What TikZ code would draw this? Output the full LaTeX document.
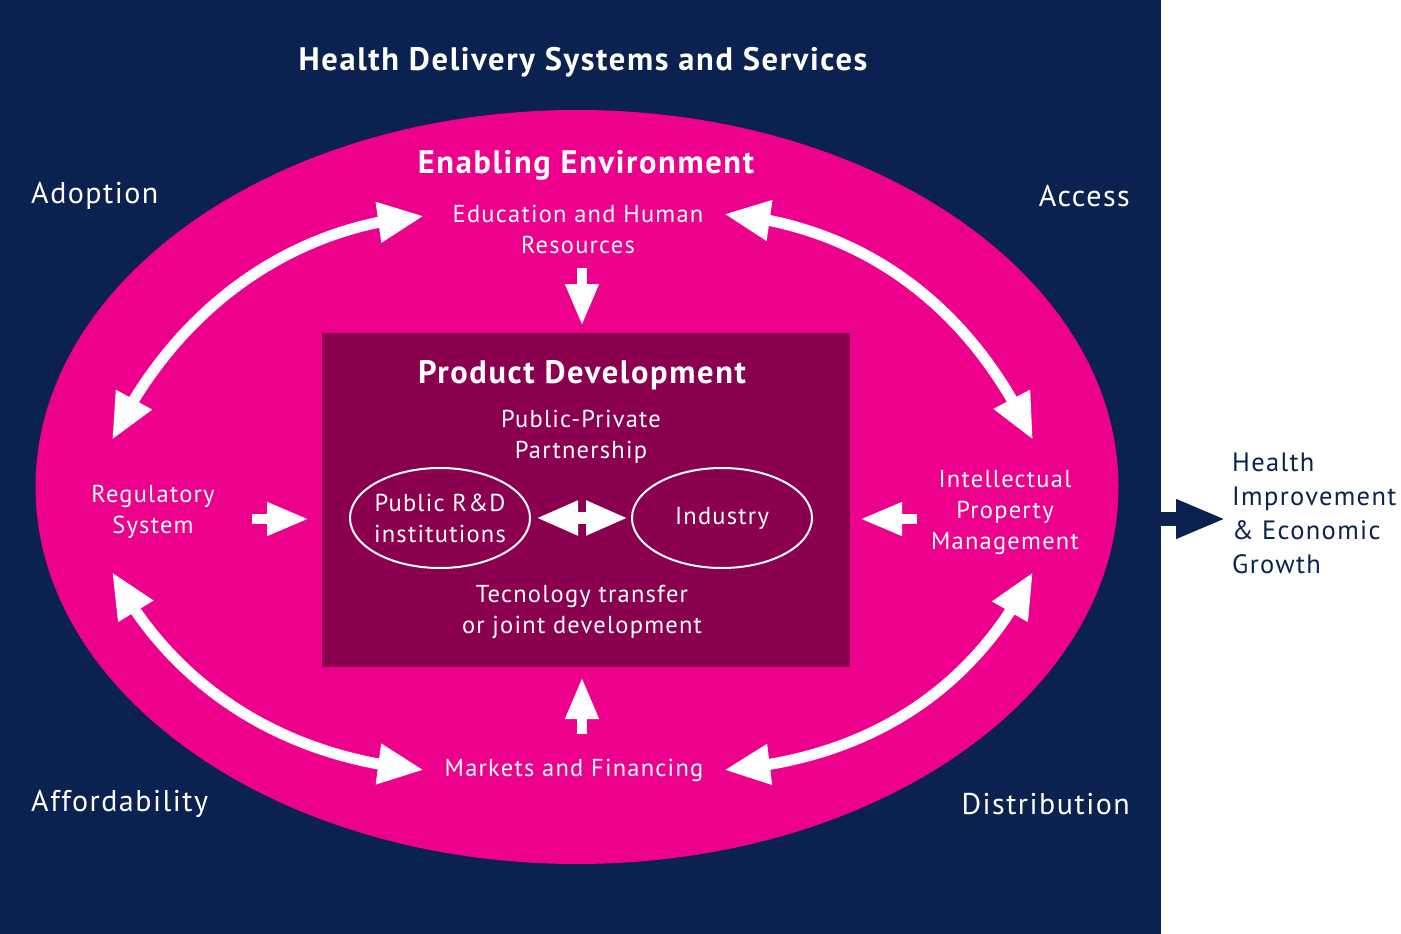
\documentclass[tikz,border=0pt]{standalone}
\usepackage{fontspec}
\setmainfont{PT Sans}[LetterSpace=5]
\usetikzlibrary{arrows.meta,bending,shapes.geometric}
\definecolor{navy}{HTML}{0B2250}
\definecolor{pinkc}{HTML}{EC008C}
\definecolor{plum}{HTML}{8A004F}
\tikzset{
  lbl/.style={text=white,align=center,font=\fontsize{24.5}{31}\selectfont,inner sep=0pt},
  corner/.style={text=white,font=\fontsize{30}{36}\selectfont,inner sep=0pt},
  ttl/.style={text=white,font=\bfseries\fontsize{32.5}{36}\selectfont,inner sep=0pt},
  bigarrow/.style={white,line width=11pt,{Triangle[length=46pt,width=38pt]}-{Triangle[length=46pt,width=38pt]}},
  smallarrow/.style={white,line width=10pt,-{Triangle[length=42pt,width=31pt]}},
  pill/.style={draw=white,line width=2pt,ellipse,minimum width=180pt,minimum height=100pt,inner sep=0pt}
}
\begin{document}
\begin{tikzpicture}[x=1pt,y=-1pt]
\useasboundingbox (0,0) rectangle (1401,934);
\fill[navy] (0,0) rectangle (1161,934);
\fill[pinkc] (577,487) ellipse [x radius=541.5pt, y radius=377pt];
\fill[plum] (322,333) rectangle (850,667);

\node[ttl] (hd) at (583,62) {Health Delivery Systems and Services};
\node[ttl] (ee) at (586,165) {Enabling Environment};
\node[ttl] (pd) at (582,375) {Product Development};

\node[corner,anchor=west] (adopt) at (31,196) {Adoption};
\node[corner,anchor=east] (access) at (1130,196) {Access};
\node[corner,anchor=west] (afford) at (31,804) {Affordability};
\node[corner,anchor=east] (distr) at (1130,804) {Distribution};

\node[lbl] (edu) at (578,229) {Education and Human\\Resources};
\node[lbl] (ppp) at (581,437) {Public-Private\\Partnership};
\node[lbl] (tt) at (582,612) {Tecnology transfer\\or joint development};
\node[lbl] (reg) at (153,512) {Regulatory\\System};
\node[lbl] (ipm) at (1005,513) {Intellectual\\Property\\Management};
\node[lbl] (mkt) at (574,770) {Markets and Financing};

\node[pill] (pub) at (440,518) {};
\node[lbl] at (pub.center) {Public R\&D\\institutions};
\node[pill] (ind) at (722,518) {};
\node[lbl] at (ind.center) {Industry};

\node[text=navy,align=left,anchor=west,font=\fontsize{26.5}{34}\selectfont,inner sep=0pt] (out) at (1232,513) {Health\\Improvement\\\& Economic\\Growth};

% curved double arrows
\coordinate (tlA) at (112,440); \coordinate (tlB) at (424,216);
\coordinate (trA) at (724,214); \coordinate (trB) at (1033,440);
\coordinate (blA) at (112,572); \coordinate (blB) at (424,770);
\coordinate (brA) at (724,770); \coordinate (brB) at (1033,572);
\draw[bigarrow] (tlA) .. controls (180,300) and (300,225) .. (tlB);
\draw[bigarrow] (trA) .. controls (856,225) and (968,300) .. (trB);
\draw[bigarrow] (blA) .. controls (180,700) and (300,760) .. (blB);
\draw[bigarrow] (brA) .. controls (856,760) and (968,700) .. (brB);

% short arrows
\coordinate (dS) at (582,268); \coordinate (dT) at (582,326);
\coordinate (uS) at (582,734); \coordinate (uT) at (582,677);
\coordinate (lS) at (252,519); \coordinate (lT) at (309,519);
\coordinate (rS) at (917,519); \coordinate (rT) at (860,519);
\draw[smallarrow] (dS) -- (dT);
\draw[smallarrow] (uS) -- (uT);
\draw[smallarrow] (lS) -- (lT);
\draw[smallarrow] (rS) -- (rT);

\draw[white,line width=12pt,{Triangle[length=42pt,width=32pt]}-{Triangle[length=42pt,width=32pt]}] ([xshift=5pt]pub.east) -- ([xshift=-3pt]ind.west);

\coordinate (oS) at (1160,519); \coordinate (oT) at (1226,519);
\draw[navy,line width=14pt,-{Triangle[length=50pt,width=36pt]}] (oS) -- (oT);
\end{tikzpicture}
\end{document}
